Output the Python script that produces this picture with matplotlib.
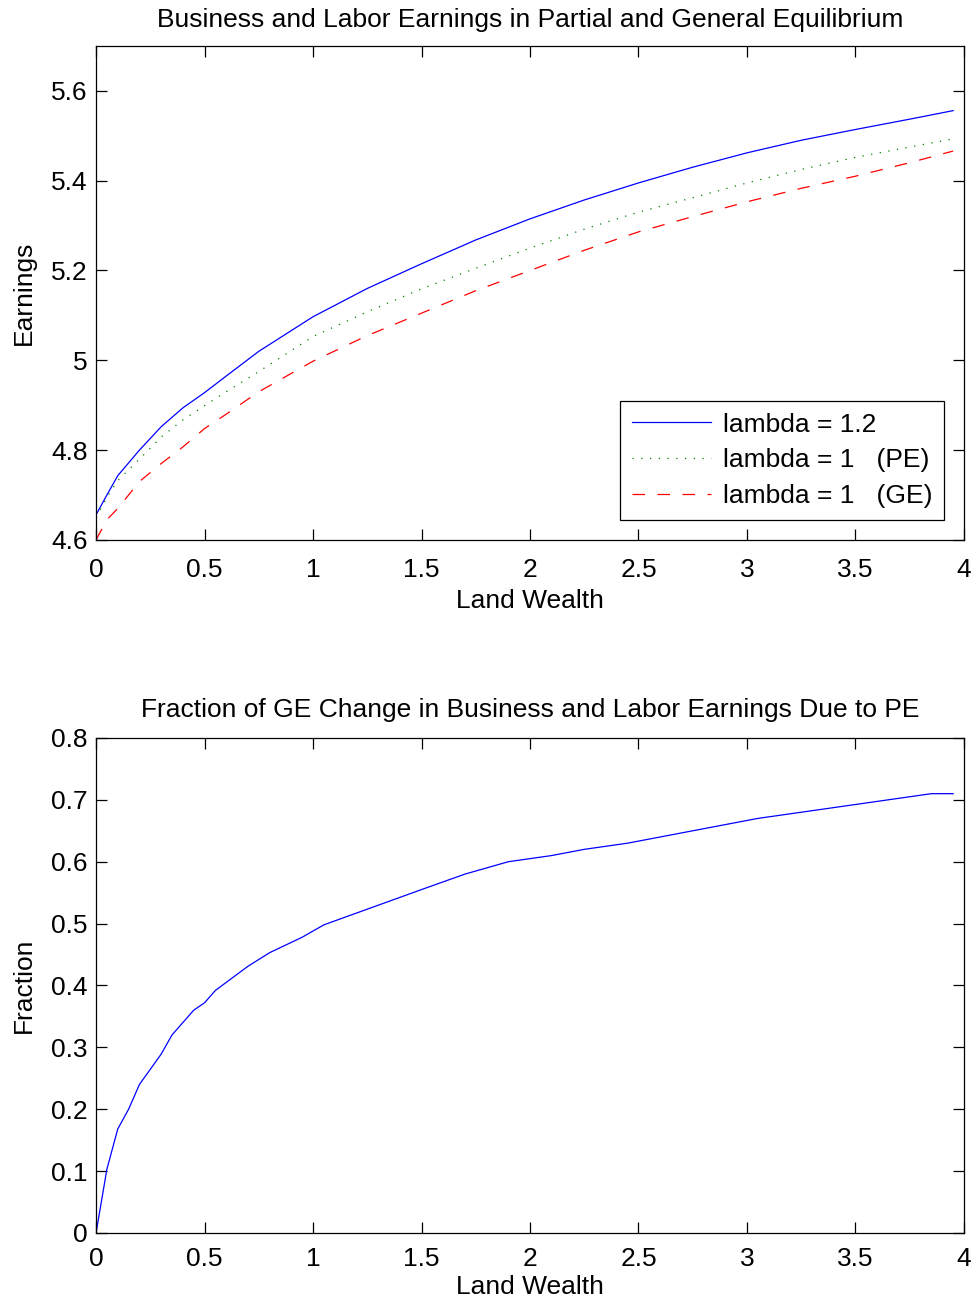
import numpy as np
import matplotlib
matplotlib.use("Agg")
import matplotlib.pyplot as plt

plt.rcParams['font.family'] = ['Liberation Sans', 'DejaVu Sans']

# land wealth grid points
x_top = [0, 0.05, 0.1, 0.2, 0.3, 0.4, 0.5, 0.6, 0.75, 1.0, 1.25, 1.5, 1.75, 2.0,
         2.25, 2.5, 2.75, 3.0, 3.25, 3.5, 3.75, 3.95]
lam12 = [4.656, 4.70, 4.743, 4.80, 4.852, 4.894, 4.928, 4.965, 5.02, 5.097, 5.16,
         5.215, 5.268, 5.315, 5.357, 5.395, 5.43, 5.462, 5.49, 5.514, 5.537, 5.556]
lam1_pe = [4.65, 4.695, 4.732, 4.78, 4.829, 4.867, 4.899, 4.93, 4.975, 5.053, 5.108,
           5.159, 5.205, 5.25, 5.292, 5.33, 5.362, 5.395, 5.425, 5.452, 5.475, 5.493]
lam1_ge = [4.60, 4.645, 4.67, 4.73, 4.77, 4.807, 4.848, 4.88, 4.93, 4.998, 5.055,
           5.105, 5.155, 5.20, 5.245, 5.286, 5.32, 5.353, 5.383, 5.41, 5.44, 5.466]

x_bot = [0, 0.05, 0.1, 0.15, 0.2, 0.3, 0.35, 0.45, 0.5, 0.55, 0.7, 0.8, 0.95, 1.05,
         1.2, 1.35, 1.5, 1.7, 1.9, 2.1, 2.25, 2.45, 2.6, 2.75, 2.9, 3.05, 3.25,
         3.45, 3.65, 3.85, 3.95]
frac = [0, 0.103, 0.168, 0.20, 0.24, 0.289, 0.32, 0.36, 0.372, 0.392, 0.431, 0.453,
        0.478, 0.498, 0.517, 0.536, 0.555, 0.58, 0.60, 0.61, 0.62, 0.63, 0.64,
        0.65, 0.66, 0.67, 0.68, 0.69, 0.70, 0.71, 0.71]

fig = plt.figure(figsize=(9.74, 13.02), dpi=100)
ax1 = fig.add_axes([0.0986, 0.5853, 0.8911, 0.3794])
ax2 = fig.add_axes([0.0986, 0.0530, 0.8911, 0.3802])

fs = 19

ax1.plot(x_top, lam12, color='blue', lw=0.9, label='lambda = 1.2')
ax1.plot(x_top, lam1_pe, color='green', lw=0.9, linestyle=(0, (1, 6)),
         label='lambda = 1   (PE)')
ax1.plot(x_top, lam1_ge, color='red', lw=0.9, linestyle=(0, (10, 10)),
         label='lambda = 1   (GE)')
ax1.set_xlim(0, 4)
ax1.set_ylim(4.6, 5.7)
ax1.set_yticks([4.6, 4.8, 5.0, 5.2, 5.4, 5.6])
ax1.set_yticklabels(['4.6', '4.8', '5', '5.2', '5.4', '5.6'])
ax1.set_xticks([0, 0.5, 1, 1.5, 2, 2.5, 3, 3.5, 4])
ax1.set_xticklabels(['0', '0.5', '1', '1.5', '2', '2.5', '3', '3.5', '4'])
ax1.set_title('Business and Labor Earnings in Partial and General Equilibrium',
              fontsize=fs, pad=14)
ax1.set_xlabel('Land Wealth', fontsize=fs, labelpad=5)
ax1.set_ylabel('Earnings', fontsize=fs, labelpad=11)
leg = ax1.legend(loc='lower right', bbox_to_anchor=(0.977, 0.04), fontsize=fs,
                 handlelength=3.0, handletextpad=0.45, fancybox=False,
                 framealpha=1, edgecolor='black', borderpad=0.45,
                 labelspacing=0.45, borderaxespad=0)
leg.get_frame().set_linewidth(0.9)

ax2.plot(x_bot, frac, color='blue', lw=0.9)
ax2.set_xlim(0, 4)
ax2.set_ylim(0, 0.8)
ax2.set_yticks(np.arange(0, 0.81, 0.1))
ax2.set_yticklabels(['0', '0.1', '0.2', '0.3', '0.4', '0.5', '0.6', '0.7', '0.8'])
ax2.set_xticks([0, 0.5, 1, 1.5, 2, 2.5, 3, 3.5, 4])
ax2.set_xticklabels(['0', '0.5', '1', '1.5', '2', '2.5', '3', '3.5', '4'])
ax2.set_title('Fraction of GE Change in Business and Labor Earnings Due to PE',
              fontsize=fs, pad=15)
ax2.set_xlabel('Land Wealth', fontsize=fs, labelpad=3)
ax2.set_ylabel('Fraction', fontsize=fs, labelpad=11)

for ax in (ax1, ax2):
    ax.tick_params(direction='in', top=True, right=True, length=8, width=0.9,
                   labelsize=fs, pad=6)
    for s in ax.spines.values():
        s.set_linewidth(0.9)
ax1.tick_params(axis='x', pad=13)
ax2.tick_params(axis='x', pad=10)

fig.savefig('out.png', dpi=100)
